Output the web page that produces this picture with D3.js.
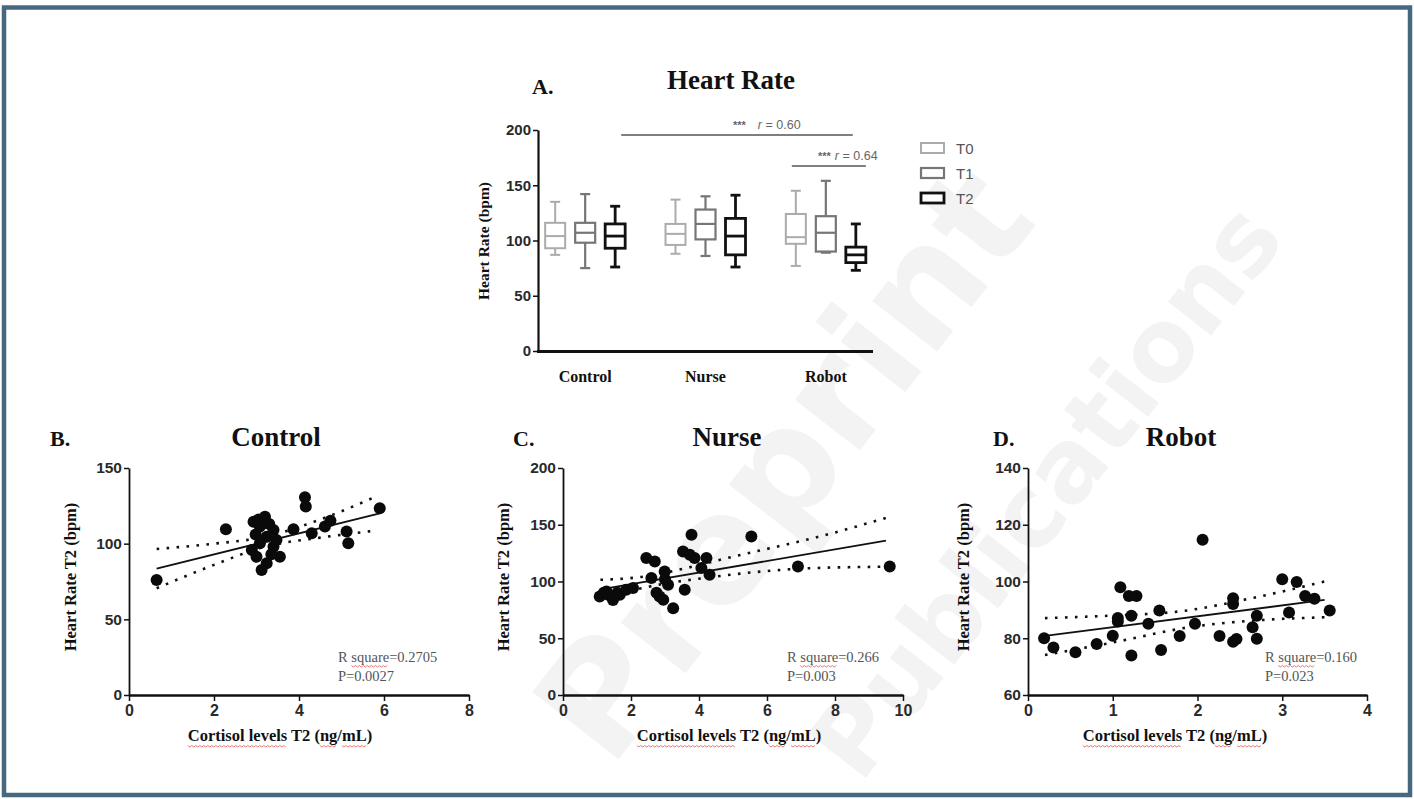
<!DOCTYPE html>
<html><head><meta charset="utf-8">
<script src="https://cdn.jsdelivr.net/npm/d3@7"></script>
<style>
html,body{margin:0;padding:0;background:#fff;}
svg{display:block;}
</style></head>
<body>
<svg id="chart" width="1414" height="799"></svg>
<script>
// ---------------- DATA ----------------
const boxCategories = ["Control", "Nurse", "Robot"];
const timepoints = ["T0", "T1", "T2"];
// [category, timepoint, min, q1, median, q3, max]
const boxStats = [
  ["Control", "T0", 87, 93, 104, 116, 135],
  ["Control", "T1", 75, 98, 107, 116, 142],
  ["Control", "T2", 76, 93, 104, 115, 131],
  ["Nurse",   "T0", 88, 96, 106, 115, 137],
  ["Nurse",   "T1", 86, 101, 115, 128, 140],
  ["Nurse",   "T2", 76, 87, 104, 120, 141],
  ["Robot",   "T0", 77, 97, 103, 124, 145],
  ["Robot",   "T1", 89, 90, 107, 122, 154],
  ["Robot",   "T2", 73, 80, 87, 94, 115]
];
const boxYTicks = [0, 50, 100, 150, 200];
// significance bars: [fromCat, fromTime, toCat, toTime, level, r label]
const sigBars = [
  ["Control", "T2", "Robot", "T2", 195.5, "0.60"],
  ["Robot", "T0", "Robot", "T2", 167.5, "0.64"]
];

const controlPoints = [[0.65,76],[2.28,109.5],[2.93,114.5],[3.05,116],[3.2,117.8],[3.3,113],[3.08,111.3],[3.4,109],[2.98,106],[3.24,104.6],[3.08,100.3],[3.4,98],[3.47,102.4],[2.89,95.8],[3.0,91.4],[3.55,91.4],[3.24,87],[3.12,82.6],[3.35,93],[3.87,109.5],[4.14,130.7],[4.16,124.5],[4.3,106.9],[4.61,111.3],[4.74,115.2],[5.12,108],[5.16,100.3],[5.9,123.4]];
const controlFit = [[0.65,83.5],[5.9,120]];
const controlUpper = [[0.65,96.5],[2,100],[3.2,104.5],[4.5,116],[5.8,131]];
const controlLower = [[0.65,70.5],[2,86],[3.2,98],[4.5,104],[5.8,108.6]];
const controlXTicks = [0, 2, 4, 6, 8];
const controlYTicks = [0, 50, 100, 150];
const controlStats = ["R square=0.2705", "P=0.0027"];

const nursePoints = [[1.08,86.8],[1.2,90],[1.28,91.2],[1.35,88],[1.47,83.8],[1.6,90],[1.67,88.3],[1.86,92.7],[2.06,94.2],[2.45,120.7],[2.7,117.7],[2.6,103],[2.99,108.8],[3.09,97.1],[3.0,102],[2.84,86.8],[2.75,90],[2.95,84],[3.24,76.5],[3.58,92.7],[3.53,126.5],[3.78,141.2],[3.73,123.6],[3.87,120.7],[4.22,120.7],[4.07,111.8],[4.31,105.9],[5.54,139.7],[6.91,113.2],[9.61,113.2]];
const nurseFit = [[1.1,93],[9.5,136]];
const nurseUpper = [[1.1,101.5],[2.3,104],[3.4,110.3],[4.6,119],[8.1,144],[9.5,156]];
const nurseLower = [[1.1,84.5],[2.3,94],[4.5,104.4],[7.35,111.8],[9.5,113]];
const nurseXTicks = [0, 2, 4, 6, 8, 10];
const nurseYTicks = [0, 50, 100, 150, 200];
const nurseStats = ["R square=0.266", "P=0.003"];

const robotPoints = [[0.19,80],[0.3,76.7],[0.56,75.1],[0.81,78],[1.0,80.9],[1.09,98],[1.06,87.1],[1.06,85.9],[1.19,94.9],[1.28,94.9],[1.22,87.9],[1.22,73.9],[1.42,85.1],[1.55,89.8],[1.57,75.9],[1.79,80.8],[1.97,85.1],[2.06,114.7],[2.26,80.8],[2.42,94.1],[2.42,92.1],[2.42,78.8],[2.46,79.7],[2.65,83.9],[2.7,87.9],[2.7,79.8],[3.0,100.8],[3.08,89.1],[3.17,99.8],[3.27,94.9],[3.38,93.9],[3.56,89.8]];
const robotFit = [[0.2,80.8],[3.5,93.5]];
const robotUpper = [[0.2,87.1],[1.0,88],[1.8,89.5],[2.7,94.5],[3.5,100]];
const robotLower = [[0.2,74.1],[1.0,78.5],[1.95,84.1],[2.7,86.3],[3.5,87.4]];
const robotXTicks = [0, 1, 2, 3, 4];
const robotYTicks = [60, 80, 100, 120, 140];
const robotStats = ["R square=0.160", "P=0.023"];

// ---------------- DRAWING ----------------
const svg = d3.select("#chart");
const SERIF = "'Liberation Serif','Times New Roman',serif";
const SANS = "'Liberation Sans',Arial,sans-serif";

// faint watermark
const wm = svg.append("g").attr("fill", "#f3f3f3").attr("font-family", "'DejaVu Sans',sans-serif").attr("font-weight", "bold");
wm.append("text").attr("transform", "translate(610,770) rotate(-52)").attr("font-size", 150).text("Preprint");
wm.append("text").attr("transform", "translate(860,785) rotate(-52)").attr("font-size", 100).text("Publications");

// frame
svg.append("rect").attr("x", 4).attr("y", 7.5).attr("width", 1406).attr("height", 787.5)
  .attr("fill", "none").attr("stroke", "#46697f").attr("stroke-width", 4.5);

function styleAxis(g, w, fs) {
  g.select(".domain").attr("stroke", "#111").attr("stroke-width", w);
  g.selectAll(".tick line").attr("stroke", "#111").attr("stroke-width", 1.5);
  g.selectAll(".tick text").attr("font-family", SANS).attr("font-weight", "bold")
    .attr("font-size", fs).attr("fill", "#2a2a2a");
}

// ---- Panel A: box plots ----
const xA = d3.scaleBand().domain(boxCategories).range([525, 886]);
const xSub = d3.scaleBand().domain(timepoints).range([-45, 45]);
const yA = d3.scaleLinear().domain([0, 200]).range([351, 130]);
const boxColor = d3.scaleOrdinal().domain(timepoints).range(["#ababab", "#767676", "#111111"]);
const boxStroke = d3.scaleOrdinal().domain(timepoints).range([2, 2.2, 2.8]);
const bw = 20;
const cx = (c, t) => xA(c) + xA.bandwidth() / 2 + xSub(t) + xSub.bandwidth() / 2;

const gA = svg.append("g");
gA.append("text").attr("x", 532).attr("y", 94).attr("font-family", SERIF).attr("font-weight", "bold")
  .attr("font-size", 22).attr("fill", "#111").text("A.");
gA.append("text").attr("x", 731).attr("y", 89).attr("text-anchor", "middle").attr("font-family", SERIF)
  .attr("font-weight", "bold").attr("font-size", 27).attr("fill", "#111").text("Heart Rate");

const yAxisA = gA.append("g").attr("transform", "translate(538,0)")
  .call(d3.axisLeft(yA).tickValues(boxYTicks).tickSize(5).tickSizeOuter(0).tickPadding(2));
styleAxis(yAxisA, 2.2, 15);
const xAxisA = gA.append("g").attr("transform", "translate(0,351)")
  .call(d3.axisBottom(xA).tickSize(0).tickPadding(20));
xAxisA.select(".domain").remove();
xAxisA.selectAll(".tick text").attr("font-family", SERIF).attr("font-weight", "bold")
  .attr("font-size", 16).attr("fill", "#111");
gA.append("line").attr("x1", 537).attr("x2", 873).attr("y1", 351.5).attr("y2", 351.5)
  .attr("stroke", "#111").attr("stroke-width", 3);

gA.append("text").attr("transform", "translate(489,241) rotate(-90)").attr("text-anchor", "middle")
  .attr("font-family", SERIF).attr("font-weight", "bold").attr("font-size", 15.5).attr("fill", "#111")
  .text("Heart Rate (bpm)");

const boxes = gA.selectAll(".box").data(boxStats).join("g").attr("class", "box")
  .attr("stroke", d => boxColor(d[1])).attr("stroke-width", d => boxStroke(d[1])).attr("fill", "none");
boxes.each(function(d) {
  const g = d3.select(this);
  const x = cx(d[0], d[1]);
  g.append("line").attr("x1", x).attr("x2", x).attr("y1", yA(d[6])).attr("y2", yA(d[5]));
  g.append("line").attr("x1", x).attr("x2", x).attr("y1", yA(d[3])).attr("y2", yA(d[2]));
  g.append("line").attr("x1", x - 5).attr("x2", x + 5).attr("y1", yA(d[6])).attr("y2", yA(d[6]));
  g.append("line").attr("x1", x - 5).attr("x2", x + 5).attr("y1", yA(d[2])).attr("y2", yA(d[2]));
  g.append("rect").attr("x", x - bw / 2).attr("y", yA(d[5])).attr("width", bw).attr("height", yA(d[3]) - yA(d[5]))
    .attr("fill", "#fff");
  g.append("line").attr("x1", x - bw / 2).attr("x2", x + bw / 2).attr("y1", yA(d[4])).attr("y2", yA(d[4]));
});

sigBars.forEach((s, i) => {
  const x1 = i === 0 ? cx(s[0], s[1]) + 6 : cx(s[0], s[1]) - 4;
  const x2 = i === 0 ? cx(s[2], s[3]) - 3 : cx(s[2], s[3]) + 10;
  const y = yA(s[4]);
  gA.append("line").attr("x1", x1).attr("x2", x2).attr("y1", y).attr("y2", y)
    .attr("stroke", "#555").attr("stroke-width", 1.5);
  const t = gA.append("text").attr("x", i === 0 ? 733 : 818).attr("y", y - 6)
    .attr("font-family", SANS).attr("font-size", 12.5).attr("fill", "#666");
  t.append("tspan").attr("font-size", 11).attr("font-weight", "bold").text("***");
  t.append("tspan").attr("dx", i === 0 ? 12 : 4).attr("font-style", "italic").text("r");
  t.append("tspan").text(" = " + s[5]);
});

// legend
const leg = gA.append("g");
timepoints.forEach((t, i) => {
  const y = 143 + i * 25;
  leg.append("rect").attr("x", 921).attr("y", y).attr("width", 23).attr("height", 10)
    .attr("fill", "#fff").attr("stroke", boxColor(t)).attr("stroke-width", boxStroke(t));
  leg.append("text").attr("x", 956).attr("y", y + 11).attr("font-family", SANS).attr("font-size", 15)
    .attr("fill", "#555").text(t);
});

// ---- scatter panels ----
function squiggle(g, x1, x2, y) {
  const pts = [];
  for (let x = x1, k = 0; x <= x2; x += 2, k++) pts.push([x, y + (k % 2 ? 1 : -0.5)]);
  g.append("path").attr("d", d3.line()(pts)).attr("fill", "none").attr("stroke", "#e26a6a").attr("stroke-width", 0.9);
}

function scatterPanel(cfg) {
  const g = svg.append("g");
  const x = d3.scaleLinear().domain(cfg.xd).range(cfg.xr);
  const y = d3.scaleLinear().domain(cfg.yd).range([695, 468]);
  g.append("text").attr("x", cfg.letterX).attr("y", 446).attr("font-family", SERIF).attr("font-weight", "bold")
    .attr("font-size", 22).attr("fill", "#111").text(cfg.letter);
  g.append("text").attr("x", cfg.titleX).attr("y", 446).attr("text-anchor", "middle").attr("font-family", SERIF)
    .attr("font-weight", "bold").attr("font-size", 27).attr("fill", "#111").text(cfg.title);

  const ya = g.append("g").attr("transform", `translate(${cfg.xr[0]},0)`)
    .call(d3.axisLeft(y).tickValues(cfg.yt).tickSize(5).tickSizeOuter(0).tickPadding(2));
  styleAxis(ya, 1.8, 15.5);
  const xa = g.append("g").attr("transform", "translate(0,695)")
    .call(d3.axisBottom(x).tickValues(cfg.xt).tickFormat(d3.format("d")).tickSize(6).tickSizeOuter(0).tickPadding(4));
  styleAxis(xa, 2.4, 16);

  g.append("text").attr("transform", `translate(${cfg.yLabX},577) rotate(-90)`).attr("text-anchor", "middle")
    .attr("font-family", SERIF).attr("font-weight", "bold").attr("font-size", 16.5).attr("fill", "#111")
    .text("Heart Rate T2 (bpm)");
  const xl = g.append("text").attr("x", cfg.xLabX).attr("y", 741).attr("text-anchor", "middle")
    .attr("font-family", SERIF).attr("font-weight", "bold").attr("font-size", 16.5).attr("fill", "#111")
    .text("Cortisol levels T2 (ng/mL)");
  // spell-check underlines
  const node = xl.node();
  const tw = node.getComputedTextLength();
  const x0 = cfg.xLabX - tw / 2;
  const sub = n => node.getSubStringLength(0, n);
  squiggle(g, x0, x0 + sub(15), 746);
  squiggle(g, x0 + sub(20), x0 + sub(22), 746);
  squiggle(g, x0 + sub(23), x0 + sub(25), 746);

  // confidence bands and fit
  const line = d3.line().x(d => x(d[0])).y(d => y(d[1]));
  const curve = d3.line().x(d => x(d[0])).y(d => y(d[1])).curve(d3.curveMonotoneX);
  [cfg.upper, cfg.lower].forEach(b => g.append("path").attr("d", curve(b)).attr("fill", "none")
    .attr("stroke", "#111").attr("stroke-width", 2.6).attr("stroke-dasharray", "2.6,7.4"));
  g.append("path").attr("d", line(cfg.fit)).attr("fill", "none").attr("stroke", "#111").attr("stroke-width", 1.8);

  g.selectAll("circle").data(cfg.points).join("circle")
    .attr("cx", d => x(d[0])).attr("cy", d => y(d[1])).attr("r", 6).attr("fill", "#0a0a0a");

  const st = g.append("text").attr("font-family", SERIF).attr("font-size", 14.5).attr("fill", "#555");
  st.append("tspan").attr("x", cfg.statX).attr("y", 662).text(cfg.stats[0]);
  st.append("tspan").attr("x", cfg.statX).attr("y", 681).text(cfg.stats[1]);
  const sn = st.select("tspan").node();
  const rw = sn.getSubStringLength(0, 2);
  const sqw = sn.getSubStringLength(2, 6);
  squiggle(g, cfg.statX + rw, cfg.statX + rw + sqw, 666);
}

scatterPanel({ letter: "B.", letterX: 50, title: "Control", titleX: 276, xd: [0, 8], xr: [129, 469],
  yd: [0, 150], xt: controlXTicks, yt: controlYTicks, yLabX: 76, xLabX: 280,
  points: controlPoints, fit: controlFit, upper: controlUpper, lower: controlLower, stats: controlStats, statX: 338 });
scatterPanel({ letter: "C.", letterX: 513, title: "Nurse", titleX: 727, xd: [0, 10], xr: [563, 903],
  yd: [0, 200], xt: nurseXTicks, yt: nurseYTicks, yLabX: 509, xLabX: 729,
  points: nursePoints, fit: nurseFit, upper: nurseUpper, lower: nurseLower, stats: nurseStats, statX: 787 });
scatterPanel({ letter: "D.", letterX: 993, title: "Robot", titleX: 1181, xd: [0, 4], xr: [1028, 1367],
  yd: [60, 140], xt: robotXTicks, yt: robotYTicks, yLabX: 969, xLabX: 1175,
  points: robotPoints, fit: robotFit, upper: robotUpper, lower: robotLower, stats: robotStats, statX: 1265 });
</script>
</body></html>
